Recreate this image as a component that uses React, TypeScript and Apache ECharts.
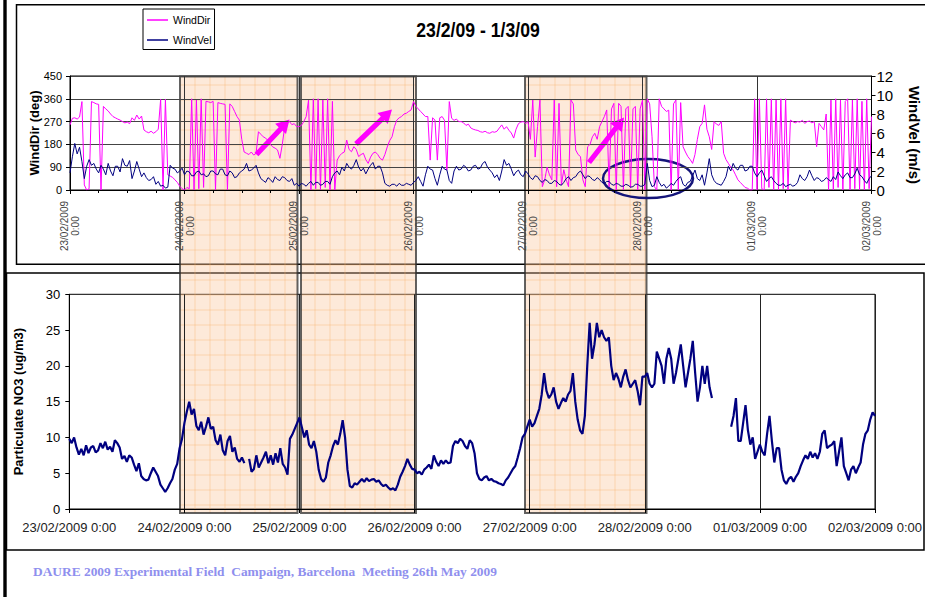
import React, { useEffect, useRef } from 'react';
import * as echarts from 'echarts';

// ---------- data ----------
const DAY_LABELS = ['23/02/2009', '24/02/2009', '25/02/2009', '26/02/2009', '27/02/2009', '28/02/2009', '01/03/2009', '02/03/2009'];
const HOURS_PER_DAY = 24;
const TOTAL_HOURS = 168;

const TITLE = '23/2/09 - 1/3/09';
const FOOTER = 'DAURE 2009 Experimental Field  Campaign, Barcelona  Meeting 26th May 2009';

// wind direction (deg), one value every 30 minutes from 23/02/2009 0:00
const WIND_DIR_STEP_H = 0.5;
const WIND_DIR = [
  257, 283, 285, 280, 288, 349, 20, 0, 5, 349, 345, 340, 338, 0, 330, 320, 312, 300, 290, 285,
  280, 276, 270, 265, 268, 262, 285, 275, 296, 280, 292, 237, 230, 226, 232, 224, 230, 240, 358, 0,
  358, 60, 55, 50, 40, 30, 15, 5, 0, 10, 5, 360, 0, 355, 5, 360, 10, 350, 348, 345,
  350, 0, 345, 342, 340, 338, 0, 340, 330, 310, 290, 276, 200, 150, 145, 140, 150, 138, 145, 230,
  220, 210, 205, 195, 180, 170, 165, 158, 125, 180, 250, 265, 270, 258, 262, 250, 250, 255, 270, 290,
  355, 0, 360, 5, 360, 0, 355, 10, 360, 0, 350, 0, 118, 135, 145, 150, 197, 160, 151, 171,
  160, 132, 140, 145, 120, 105, 130, 145, 150, 140, 125, 118, 140, 170, 195, 210, 250, 276, 285, 290,
  300, 303, 310, 316, 349, 330, 320, 310, 300, 290, 290, 118, 285, 276, 118, 285, 290, 275, 79, 349,
  283, 275, 280, 270, 270, 265, 255, 260, 245, 240, 237, 235, 230, 228, 232, 226, 224, 230, 228, 232,
  245, 257, 240, 250, 236, 225, 205, 240, 262, 268, 270, 262, 270, 200, 355, 130, 250, 355, 13, 40,
  90, 60, 40, 355, 13, 342, 20, 80, 40, 13, 355, 340, 158, 140, 132, 40, 13, 171, 180, 210,
  224, 200, 250, 270, 290, 316, 13, 320, 342, 0, 342, 330, 0, 320, 330, 10, 320, 330, 0, 320,
  355, 0, 360, 340, 210, 13, 0, 360, 330, 320, 310, 315, 0, 340, 355, 0, 345, 171, 150, 132,
  120, 105, 140, 200, 250, 263, 336, 240, 210, 160, 270, 260, 255, 270, 145, 120, 105, 90, 79, 60,
  40, 30, 20, 10, 7, 0, 0, 360, 0, 360, 5, 0, 360, 10, 360, 0, 355, 0, 360, 5,
  360, 0, 276, 270, 265, 270, 268, 275, 263, 270, 272, 265, 270, 171, 263, 250, 237, 300, 0, 355,
  0, 360, 10, 355, 0, 350, 360, 0, 355, 5, 360, 0, 350, 0, 360, 5,
  290,
];

// wind speed (m/s), one value every 30 minutes
const WIND_VEL_STEP_H = 0.5;
const WIND_VEL = [
  1.8, 3.5, 4.9, 3.8, 4.5, 3.0, 1.2, 2.5, 3.2, 2.6, 2.8, 2.2, 1.8, 2.6, 2.2, 1.6, 2.8, 2.0, 1.5, 2.5,
  2.5, 1.9, 3.3, 2.6, 2.5, 3.1, 1.2, 2.0, 3.0, 2.2, 1.4, 1.8, 1.3, 1.0, 1.1, 1.4, 0.6, 0.9, 0.4, 0.5,
  0.2, 0.3, 2.6, 2.3, 2.2, 1.8, 2.0, 2.3, 1.6, 2.0, 1.9, 1.5, 1.5, 1.9, 2.0, 1.6, 1.7, 1.4, 1.5, 2.0,
  2.0, 1.7, 1.6, 2.2, 2.2, 1.6, 1.5, 2.0, 1.8, 1.3, 1.4, 1.8, 2.0, 2.2, 2.8, 2.0, 2.1, 2.3, 2.6, 1.8,
  1.2, 1.0, 0.8, 1.3, 1.1, 0.8, 1.4, 1.1, 1.0, 1.4, 1.3, 1.0, 0.9, 1.2, 0.5, 0.7, 0.4, 0.7, 0.6, 0.4,
  0.7, 0.9, 0.5, 0.8, 0.8, 0.5, 0.6, 0.9, 0.9, 0.6, 1.4, 1.8, 2.0, 1.6, 2.4, 2.0, 2.8, 2.4, 2.2, 2.6,
  3.2, 2.4, 2.0, 2.3, 1.7, 2.2, 2.6, 2.9, 2.2, 2.5, 2.5, 1.8, 0.7, 0.5, 0.4, 0.6, 0.6, 0.4, 0.7, 0.5,
  0.5, 0.7, 0.6, 0.5, 0.8, 1.0, 1.4, 0.9, 0.4, 1.6, 2.5, 2.2, 2.1, 1.2, 0.5, 1.6, 2.5, 2.2, 2.1, 1.0,
  0.7, 2.0, 2.5, 2.1, 2.2, 2.6, 2.4, 2.0, 2.1, 2.5, 2.6, 2.2, 2.3, 2.8, 3.0, 2.4, 2.1, 1.8, 1.3, 1.6,
  1.0, 2.0, 3.2, 2.6, 2.8, 2.2, 1.5, 1.9, 2.1, 1.6, 1.4, 2.0, 1.7, 1.3, 1.1, 1.5, 1.4, 1.0, 0.8, 1.1,
  1.0, 0.7, 0.7, 1.0, 0.9, 0.6, 0.5, 0.8, 1.2, 1.4, 1.0, 1.3, 1.4, 1.8, 2.0, 1.6, 1.2, 1.5, 1.4, 1.1,
  1.0, 1.3, 1.1, 0.8, 0.7, 0.9, 0.9, 0.6, 0.5, 0.7, 0.6, 0.4, 0.4, 0.6, 0.5, 0.3, 0.35, 0.6, 0.6, 0.4,
  0.4, 0.6, 2.8, 1.0, 0.35, 0.5, 1.4, 0.8, 0.4, 0.6, 0.2, 0.4, 0.7, 0.5, 0.9, 1.2, 1.4, 0.6, 0.4, 0.8,
  0.9, 1.5, 2.1, 1.2, 1.0, 1.6, 0.5, 1.8, 3.3, 1.6, 1.0, 0.7, 0.6, 0.5, 0.9, 1.4, 2.5, 2.0, 2.8, 2.3,
  2.1, 2.6, 2.6, 2.0, 2.1, 2.5, 2.5, 1.8, 1.4, 1.8, 2.1, 1.5, 0.9, 1.2, 1.4, 1.0, 0.7, 0.5, 0.5, 0.7,
  0.35, 0.5, 0.6, 0.4, 0.5, 0.8, 1.6, 1.2, 1.0, 1.4, 2.1, 1.5, 1.0, 1.3, 1.2, 0.9, 1.0, 1.3, 1.1, 0.9,
  1.4, 1.1, 1.9, 1.5, 1.2, 1.6, 1.8, 1.3, 1.3, 1.7, 2.3, 1.6, 1.4, 1.0, 0.7, 1.2,
  1.5,
];

// particulate NO3 (ug/m3), one value every 30 minutes, null = no data
const NO3_STEP_H = 0.5;
const NO3: (number | null)[] = [
  9.8, 9.2, 10.0, 8.6, 7.6, 8.4, 7.5, 8.9, 7.8, 8.6, 8.8, 7.9, 8.2, 9.2, 8.5, 9.4, 8.3, 8.7, 8.0, 9.6,
  9.2, 8.6, 7.0, 7.4, 6.6, 7.5, 7.2, 6.2, 5.3, 6.4, 4.6, 4.2, 4.0, 4.1, 5.0, 5.8, 5.2, 4.6, 3.4, 2.9,
  2.4, 2.9, 3.6, 4.2, 5.5, 6.3, 8.5, 9.8, 12.0, 13.6, 15.0, 13.2, 14.0, 11.6, 11.0, 12.2, 10.4, 11.5, 12.8, 11.2,
  11.5, 9.6, 9.0, 10.4, 8.2, 7.5, 9.5, 10.2, 8.0, 8.6, 7.0, 6.6, 7.2, 6.4, null, 7.0, 5.2, 5.6, 7.5, 5.8,
  6.5, 7.2, 8.0, 6.4, 7.5, 6.2, 7.8, 6.5, 8.5, 6.3, 5.8, 4.8, 9.8, 10.4, 11.2, 12.0, 12.8, 11.4, 10.0, 11.0,
  9.0, 8.5, 9.5, 8.0, 5.5, 4.2, 3.8, 4.4, 6.5, 7.5, 8.8, 9.6, 9.0, 10.5, 12.4, 10.0, 5.5, 3.2, 3.0, 3.6,
  3.4, 3.8, 4.2, 3.8, 4.3, 3.9, 4.1, 4.2, 3.8, 4.0, 3.5, 3.2, 3.4, 3.0, 2.7, 2.9, 2.6, 3.4, 4.5, 5.2,
  6.0, 7.0, 6.2, 5.6, 5.5, 5.0, 5.2, 4.8, 5.5, 5.8, 6.2, 5.6, 7.5, 6.6, 6.0, 6.8, 6.3, 6.8, 6.4, 6.5,
  8.8, 9.5, 9.2, 9.8, 9.5, 8.8, 8.4, 9.6, 9.2, 7.8, 5.0, 4.2, 4.0, 4.4, 4.6, 4.0, 4.2, 3.9, 3.8, 3.6,
  3.5, 3.3, 4.0, 4.4, 5.0, 5.6, 6.0, 7.2, 8.5, 10.0, 10.5, 11.5, 12.5, 11.5, 12.0, 13.0, 14.0, 16.0, 19.0, 16.5,
  15.5, 16.0, 17.0, 15.0, 14.0, 14.8, 15.5, 15.0, 16.0, 16.5, 19.0, 15.0, 12.5, 11.0, 10.5, 13.0, 20.0, 26.0, 21.0, 23.0,
  26.0, 24.0, 25.0, 24.0, 23.5, 24.0, 20.0, 18.0, 19.0, 18.2, 17.0, 18.5, 19.5, 18.0, 17.0, 17.5, 18.0, 16.5, 14.5, 18.5,
  18.5, 19.0, 17.5, 17.0, 17.5, 22.0, 21.0, 20.0, 17.5, 21.0, 22.5, 21.0, 17.5, 19.0, 21.0, 23.0, 20.0, 17.0, 19.0, 21.0,
  23.5, 19.0, 15.0, 17.0, 20.0, 17.5, 20.0, 17.0, 15.5, null, null, null, null, null, null, null, 11.5, 13.0, 15.5, 9.5,
  9.5, 12.0, 14.5, 11.0, 9.0, 10.0, 7.0, 8.0, 9.0, 8.0, 7.5, 10.5, 13.0, 9.5, 6.5, 8.5, 8.5, 5.5, 4.0, 3.5,
  4.2, 4.5, 3.8, 4.5, 5.0, 6.0, 6.8, 7.5, 7.0, 8.0, 7.2, 7.8, 7.0, 8.0, 10.5, 11.0, 8.5, 8.8, 9.0, 9.5,
  6.0, 8.0, 10.0, 6.0, 5.0, 4.0, 5.5, 6.0, 5.0, 5.8, 6.5, 9.0, 10.5, 11.0, 12.5, 13.5,
  13.0,
];

// ---------- styling / layout ----------
const FONT = '"Liberation Sans", Arial, Helvetica, sans-serif';
const MAGENTA = '#FF00FF';
const NAVY = '#000080';

const BOX_SPANS = [
  [180, 297.5],
  [301, 416],
  [525, 646.5],
];
const BOX_TOP = 76.5;
const BOX_BOTTOM = 513;

function arrowPoints(x1: number, y1: number, x2: number, y2: number) {
  const shaft = 2.6, headLen = 13, headHalf = 7.5;
  const dx = x2 - x1, dy = y2 - y1;
  const L = Math.hypot(dx, dy);
  const ux = dx / L, uy = dy / L;
  const px = -uy, py = ux;
  const bx = x2 - ux * headLen, by = y2 - uy * headLen;
  return [
    [x1 + px * shaft, y1 + py * shaft],
    [bx + px * shaft, by + py * shaft],
    [bx + px * headHalf, by + py * headHalf],
    [x2, y2],
    [bx - px * headHalf, by - py * headHalf],
    [bx - px * shaft, by - py * shaft],
    [x1 - px * shaft, y1 - py * shaft],
  ];
}

function buildGraphic() {
  const els: any[] = [];
  // page frames
  els.push({ type: 'rect', shape: { x: 3.3, y: 0, width: 3.4, height: 597 }, style: { fill: '#000' } });
  els.push({ type: 'rect', shape: { x: 16.5, y: 4.7, width: 930, height: 259.5 }, style: { fill: 'none', stroke: '#000', lineWidth: 1.5 } });
  els.push({ type: 'rect', shape: { x: 6.5, y: 273, width: 917.5, height: 277 }, style: { fill: 'none', stroke: '#000', lineWidth: 1.5 } });

  // highlighted periods
  BOX_SPANS.forEach(([x0, x1]) => {
    els.push({ type: 'rect', shape: { x: x0, y: BOX_TOP, width: x1 - x0, height: BOX_BOTTOM - BOX_TOP }, style: { fill: 'rgba(249,195,149,0.36)' } });
    for (let x = Math.ceil((x0 + 2) / 15) * 15; x < x1 - 1; x += 15) {
      els.push({ type: 'line', shape: { x1: x, y1: BOX_TOP, x2: x, y2: BOX_BOTTOM }, style: { stroke: 'rgba(250,175,100,0.38)', lineWidth: 1 } });
    }
    for (let y = 85; y < BOX_BOTTOM - 1; y += 15) {
      els.push({ type: 'line', shape: { x1: x0, y1: y, x2: x1, y2: y }, style: { stroke: 'rgba(250,175,100,0.38)', lineWidth: 1 } });
    }
    els.push({ type: 'rect', shape: { x: x0, y: BOX_TOP, width: x1 - x0, height: BOX_BOTTOM - BOX_TOP }, style: { fill: 'none', stroke: 'rgba(45,45,45,0.75)', lineWidth: 2 } });
  });

  // annotations
  [
    [256.5, 154.5, 289.5, 119.5],
    [356, 144, 392, 109.5],
    [589, 162.5, 624, 117.5],
  ].forEach(([a, b, c, d]) => {
    els.push({ type: 'polygon', shape: { points: arrowPoints(a, b, c, d) }, style: { fill: MAGENTA, stroke: 'none' } });
  });
  els.push({ type: 'ellipse', shape: { cx: 648, cy: 178.5, rx: 45, ry: 19.5 }, style: { fill: 'none', stroke: '#15157a', lineWidth: 2.5 } });

  // right axis title, pushed against the right edge
  els.push({
    type: 'text', x: 914.5, y: 135, rotation: -Math.PI / 2,
    style: { text: 'WindVel (m/s)', fontSize: 15, fontWeight: 'bold', fontFamily: FONT, fill: '#000', textAlign: 'center', textVerticalAlign: 'middle', align: 'center', verticalAlign: 'middle' },
  });

  // title and footer
  els.push({
    type: 'text', x: 478, y: 29, scaleX: 0.84,
    style: { text: TITLE, fontSize: 21, fontWeight: 'bold', fontFamily: FONT, fill: '#000', textAlign: 'center', textVerticalAlign: 'middle', align: 'center', verticalAlign: 'middle' },
  });
  els.push({
    type: 'text', x: 33, y: 571,
    style: { text: FOOTER, fontSize: 13.4, fontWeight: 'bold', fontFamily: '"Liberation Serif", "Times New Roman", serif', fill: '#8f8fee', textAlign: 'left', textVerticalAlign: 'middle', align: 'left', verticalAlign: 'middle' },
  });
  return els;
}

function buildOption() {
  const dirData = WIND_DIR.map((v, i) => [i * WIND_DIR_STEP_H, v]);
  const velData = WIND_VEL.map((v, i) => [i * WIND_VEL_STEP_H, v]);
  const no3Data = NO3.map((v, i) => [i * NO3_STEP_H, v === null ? '-' : v]);
  const dayIdx = (v: number) => Math.round(v / HOURS_PER_DAY);

  return {
    animation: false,
    backgroundColor: '#fff',
    legend: {
      data: ['WindDir', 'WindVel'],
      orient: 'vertical',
      left: 143,
      top: 9,
      padding: [5.5, 3, 4, 4],
      itemWidth: 21,
      itemHeight: 1.5,
      itemGap: 9,
      icon: 'rect',
      borderColor: '#000',
      borderWidth: 1,
      backgroundColor: '#fff',
      textStyle: { fontSize: 10.5, fontFamily: FONT, color: '#000' },
    },
    grid: [
      { left: 70, top: 76, width: 801.5, height: 114, show: true, borderColor: '#000', borderWidth: 1, backgroundColor: 'transparent' },
      { left: 69.3, top: 294.3, width: 807.4, height: 214.7, show: true, borderColor: '#000', borderWidth: 1, backgroundColor: 'transparent' },
    ],
    xAxis: [
      {
        type: 'value', gridIndex: 0, min: 0, max: TOTAL_HOURS, interval: HOURS_PER_DAY,
        axisLine: { show: true, lineStyle: { color: '#000' } },
        axisTick: { show: true, length: 4, lineStyle: { color: '#000' } },
        minorTick: { show: true, splitNumber: 4, length: 3, lineStyle: { color: '#000' } },
        splitLine: { show: true, lineStyle: { color: '#333', width: 1 } },
        axisLabel: {
          formatter: (v: number) => `${DAY_LABELS[dayIdx(v)]}\n0:00`,
          rotate: 90, align: 'center', verticalAlign: 'middle', margin: 36,
          fontSize: 10, lineHeight: 11, color: '#444', fontFamily: FONT,
        },
      },
      {
        type: 'value', gridIndex: 1, min: 0, max: TOTAL_HOURS, interval: HOURS_PER_DAY,
        axisLine: { show: true, lineStyle: { color: '#000' } },
        axisTick: { show: true, length: 4, lineStyle: { color: '#000' } },
        splitLine: { show: true, lineStyle: { color: '#222', width: 1 } },
        axisLabel: {
          formatter: (v: number) => `${DAY_LABELS[dayIdx(v)]} 0:00`,
          margin: 12, fontSize: 13, color: '#222', fontFamily: FONT,
        },
      },
    ],
    yAxis: [
      {
        type: 'value', gridIndex: 0, position: 'left', min: 0, max: 450, interval: 90,
        axisLine: { show: true, lineStyle: { color: '#000' } },
        axisTick: { show: true, length: 4, lineStyle: { color: '#000' } },
        splitLine: { show: true, lineStyle: { color: '#444', width: 1.2 } },
        axisLabel: { fontSize: 11, margin: 8, color: '#000', fontFamily: FONT },
        name: 'WindDir (deg)', nameLocation: 'middle', nameRotate: 90, nameGap: 29, nameMoveOverlap: false,
        nameTextStyle: { fontSize: 13, fontWeight: 'bold', color: '#000', fontFamily: FONT },
      },
      {
        type: 'value', gridIndex: 0, position: 'right', min: 0, max: 12, interval: 2,
        axisLine: { show: true, lineStyle: { color: '#000' } },
        axisTick: { show: true, length: 4, lineStyle: { color: '#000' } },
        splitLine: { show: false },
        axisLabel: { fontSize: 15, margin: 5, color: '#000', fontFamily: FONT },
      },
      {
        type: 'value', gridIndex: 1, position: 'left', min: 0, max: 30, interval: 5,
        axisLine: { show: true, lineStyle: { color: '#000' } },
        axisTick: { show: true, length: 4, lineStyle: { color: '#000' } },
        splitLine: { show: false },
        axisLabel: { fontSize: 13, margin: 9, color: '#000', fontFamily: FONT },
        name: 'Particulate NO3 (ug/m3)', nameLocation: 'middle', nameRotate: 90, nameGap: 44, nameMoveOverlap: false,
        nameTextStyle: { fontSize: 13, fontWeight: 'bold', color: '#000', fontFamily: FONT },
      },
    ],
    series: [
      {
        name: 'WindDir', type: 'line', xAxisIndex: 0, yAxisIndex: 0, data: dirData,
        symbol: 'none', showSymbol: false, lineStyle: { color: MAGENTA, width: 1 }, itemStyle: { color: MAGENTA }, z: 3,
      },
      {
        name: 'WindVel', type: 'line', xAxisIndex: 0, yAxisIndex: 1, data: velData,
        symbol: 'none', showSymbol: false, lineStyle: { color: NAVY, width: 1 }, itemStyle: { color: NAVY }, z: 4,
      },
      {
        name: 'Particulate NO3', type: 'line', xAxisIndex: 1, yAxisIndex: 2, data: no3Data,
        symbol: 'none', showSymbol: false, connectNulls: false, lineStyle: { color: NAVY, width: 2.2 }, itemStyle: { color: NAVY }, z: 3,
      },
    ],
    graphic: buildGraphic(),
  };
}

export default function App() {
  const ref = useRef<HTMLDivElement>(null);
  useEffect(() => {
    if (!ref.current) return;
    const chart = echarts.init(ref.current, null, { renderer: 'svg' });
    chart.setOption(buildOption() as any);
    return () => chart.dispose();
  }, []);
  return (
    <div
      ref={ref}
      style={{ position: 'fixed', left: 0, top: 0, width: 925, height: 597, background: '#fff' }}
    />
  );
}
